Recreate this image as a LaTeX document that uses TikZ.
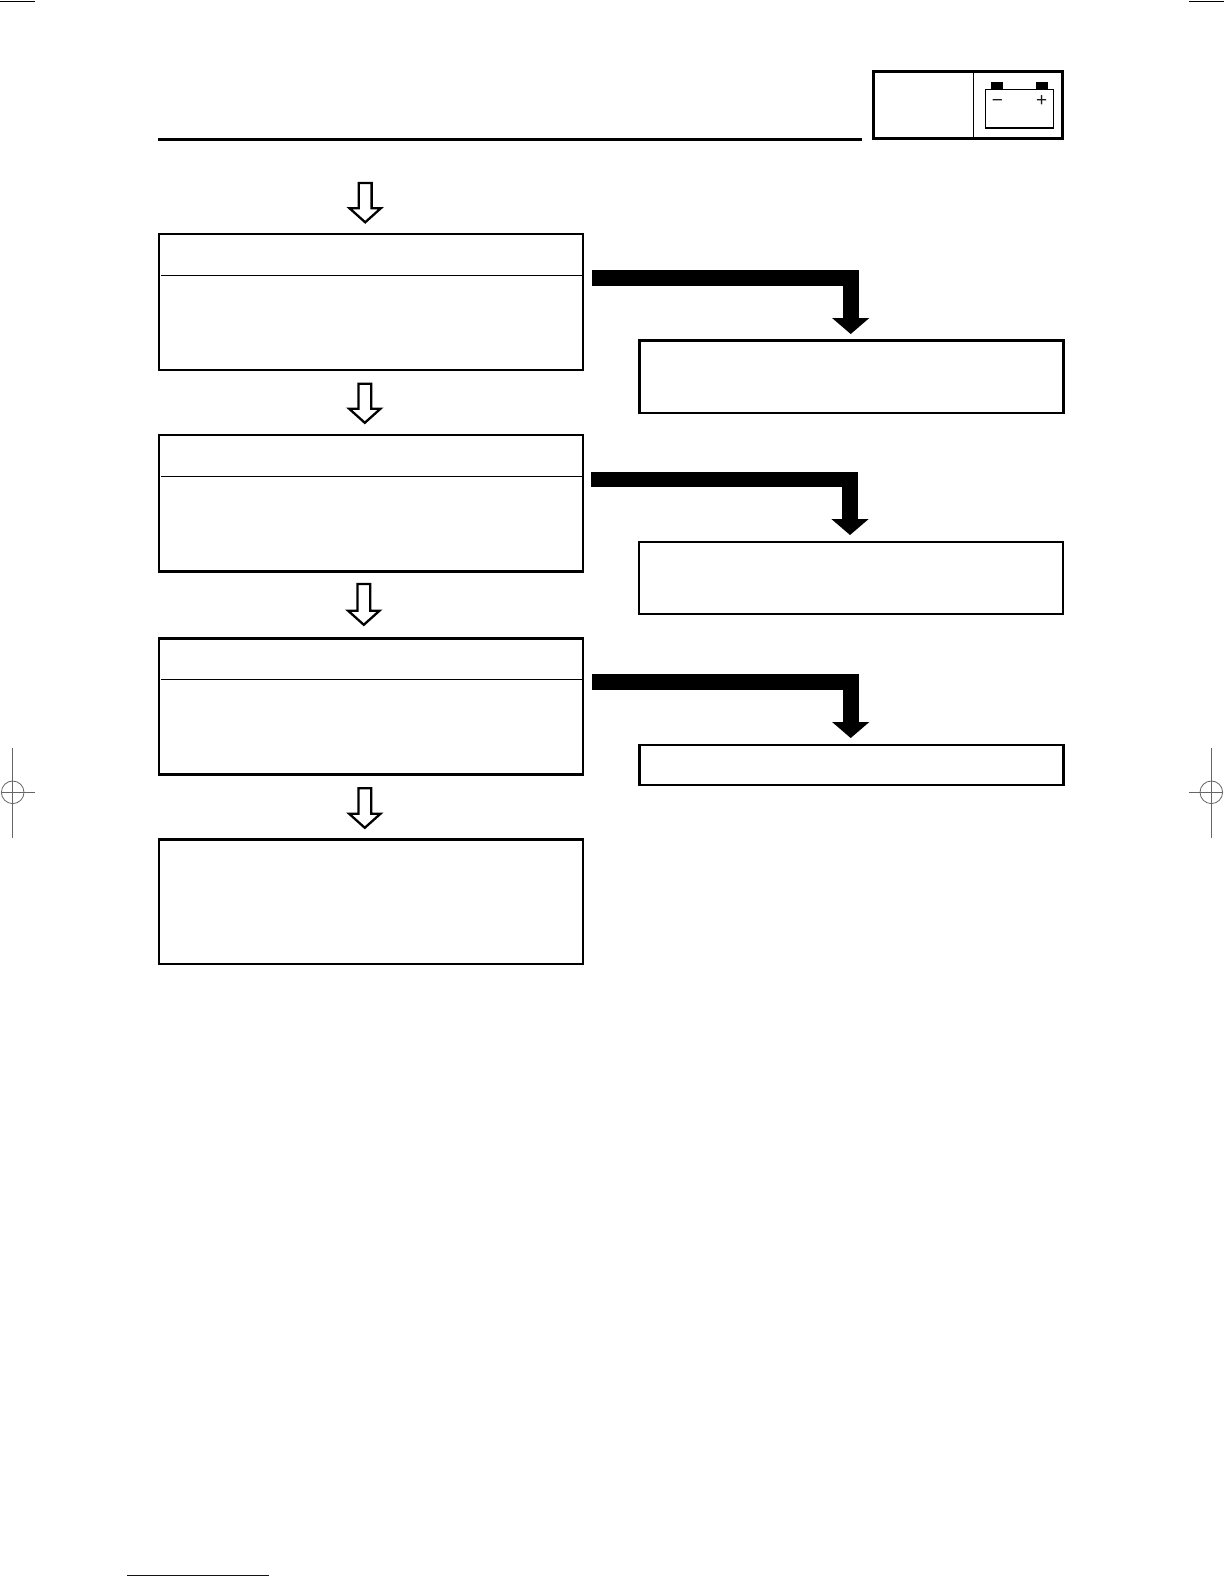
\documentclass[tikz,border=0pt]{standalone}
\usepackage{fontspec}
\setmainfont{Liberation Sans}
\usetikzlibrary{arrows.meta,calc}
\definecolor{pageblue}{RGB}{0,0,165}
\tikzset{
  box/.style={draw=black,line width=2.5pt,fill=white,rectangle,inner sep=0pt,outer sep=0pt},
  leftbox/.style={box,minimum width=424pt,minimum height=136.2pt},
  rightbox/.style={box,minimum width=424.2pt},
  divider/.style={draw=black,line width=1.2pt},
  hollowarrow/.style={draw=black,fill=white,line width=2.3pt,miter limit=10,
    to path={let \p1=(\tikztostart),\p2=(\tikztotarget) in
      (\x1-6.4pt,\y1) -- (\x1+6.4pt,\y1) -- (\x1+6.4pt,\y2+14pt) -- (\x1+15.6pt,\y2+14pt)
      -- (\x1,\y2) -- (\x1-15.6pt,\y2+14pt) -- (\x1-6.4pt,\y2+14pt) -- cycle}},
  blackarrow/.style={draw=black,line width=15.7pt,line join=miter,
    -{Triangle[length=16pt,width=37.3pt,line width=0pt]}},
  regmark/.style={draw=black!60,line width=0.8pt},
  cropmark/.style={draw=black,line width=1.3pt},
  sign/.style={font=\fontsize{19}{19}\selectfont,inner sep=0pt,outer sep=0pt,text=black!90,anchor=base}
}
\begin{document}
\begin{tikzpicture}[x=1pt,y=-1pt]
\useasboundingbox (0,0) rectangle (1224,1584);
\fill[white] (0,0) rectangle (1224,1584);

% crop marks
\draw[cropmark] (0,1.5) -- (35,1.5);
\draw[cropmark] (1189,1.5) -- (1224,1.5);
\draw[regmark] (12.7,748) -- (12.7,838);
\draw[regmark] (1,792.3) -- (35,792.3);
\draw[regmark] (12.7,792.3) circle [radius=11.3pt];
\draw[regmark] (1211.3,748) -- (1211.3,838);
\draw[regmark] (1189,792.3) -- (1222.7,792.3);
\draw[regmark] (1211.3,792.3) circle [radius=11.3pt];
\draw[draw=pageblue,line width=1.2pt] (127,1575.3) -- (269,1575.3);

% header
\draw[draw=black,line width=2.8pt] (158,139.4) -- (862,139.4);
\node[box,line width=3pt,minimum width=188.7pt,minimum height=67pt] (tab) at (968.15,105) {};
\draw[draw=black,line width=1pt] (973.3,71.5) -- (973.3,138.5);
\fill[black] (991,82.3) rectangle (1003.3,90);
\fill[black] (1035.7,82.3) rectangle (1048,90);
\node[box,line width=1.6pt,fill=none,minimum width=68pt,minimum height=38.6pt] (battery) at (1019.3,109) {};
\node[sign] (minus) at (997.5,106.3) {−};
\node[sign] (plus) at (1041.7,106.3) {+};

% main boxes
\node[leftbox] (b1) at (371,301.85) {};
\node[leftbox] (b2) at (371,503.3) {};
\node[leftbox] (b3) at (371,706.4) {};
\node[leftbox,minimum height=124.9pt] (b4) at (371,901.75) {};
\draw[divider] (161,275.3) -- (582,275.3);
\draw[divider] (161,476.3) -- (582,476.3);
\draw[divider] (161,679.3) -- (582,679.3);

% right boxes
\node[rightbox,minimum height=72.5pt] (r1) at (851.6,376.55) {};
\node[rightbox,line width=2.2pt,minimum height=72.2pt] (r2) at (851,577.9) {};
\node[rightbox,minimum height=39.8pt] (r3) at (851.6,765.1) {};

% hollow arrows
\coordinate (h1s) at (365.2,183);
\coordinate (h1t) at (365.2,222.3);
\coordinate (h2s) at (364.8,383.7);
\coordinate (h2t) at (364.8,422.8);
\coordinate (h3s) at (363.8,584);
\coordinate (h3t) at (363.8,624.8);
\coordinate (h4s) at (364.8,788.3);
\coordinate (h4t) at (364.8,827.8);
\draw[hollowarrow] (h1s) to (h1t);
\draw[hollowarrow] (h2s) to (h2t);
\draw[hollowarrow] (h3s) to (h3t);
\draw[hollowarrow] (h4s) to (h4t);

% black arrows
\coordinate (a1s) at (592,277.85);
\coordinate (a1t) at (850.7,334);
\coordinate (a2s) at (591,479.5);
\coordinate (a2t) at (850,535);
\coordinate (a3s) at (592,682.3);
\coordinate (a3t) at (850.7,738);
\draw[blackarrow] (a1s) -| (a1t);
\draw[blackarrow] (a2s) -| (a2t);
\draw[blackarrow] (a3s) -| (a3t);
\end{tikzpicture}
\end{document}
